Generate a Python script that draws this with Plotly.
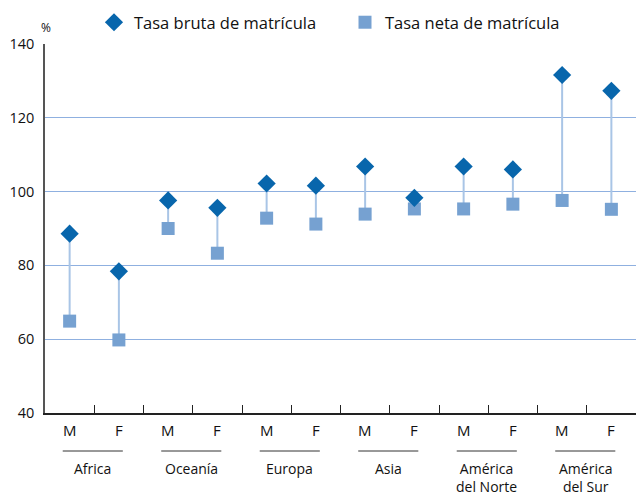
import plotly.graph_objects as go

regions = ["Africa", "Oceanía", "Europa", "Asia", "América<br>del Norte", "América<br>del Sur"]
sexes = ["M", "F"]
tasa_bruta = [88.6, 78.4, 97.6, 95.6, 102.2, 101.6, 106.8, 98.3, 106.8, 106.0, 131.6, 127.3]
tasa_neta = [64.9, 59.8, 90.0, 83.3, 92.8, 91.2, 93.9, 95.3, 95.3, 96.6, 97.6, 95.2]
y_ticks = [40, 60, 80, 100, 120, 140]

n = len(tasa_bruta)
xs = [i + 0.5 for i in range(n)]

FONT = "Open Sans"
DARK = "#111111"
W, H = 639, 496
ML, MR, MT, MB = 45, 3, 44, 83
PH = H - MT - MB


def py(px):
    """pixel y from top -> paper coordinate"""
    return (H - MB - px) / PH


stem_x, stem_y = [], []
for x, b, t in zip(xs, tasa_bruta, tasa_neta):
    stem_x += [x, x, None]
    stem_y += [t, b, None]

fig = go.Figure()
fig.add_trace(go.Scatter(x=stem_x, y=stem_y, mode="lines",
                         line=dict(color="#a9c5e6", width=2),
                         showlegend=False, hoverinfo="skip"))
fig.add_trace(go.Scatter(x=xs, y=tasa_neta, mode="markers", name="Tasa neta de matrícula",
                         legend="legend2",
                         marker=dict(symbol="square", size=13, color="#76a1d1")))
fig.add_trace(go.Scatter(x=xs, y=tasa_bruta, mode="markers", name="Tasa bruta de matrícula",
                         legend="legend",
                         marker=dict(symbol="diamond", size=14, color="#0866ac")))

annotations = []
shapes = []
for i, x in enumerate(xs):
    annotations.append(dict(x=x, y=py(430), xref="x", yref="paper", text=sexes[i % 2],
                            showarrow=False, yanchor="middle",
                            font=dict(family=FONT, size=15, color=DARK)))
for g, name in enumerate(regions):
    c = 2 * g + 1 - 0.03
    shapes.append(dict(type="line", xref="x", yref="paper", x0=c - 0.61, x1=c + 0.61,
                       y0=py(451), y1=py(451), line=dict(color="#333333", width=1)))
    annotations.append(dict(x=c, y=py(457), xref="x", yref="paper", text=name,
                            showarrow=False, yanchor="top",
                            font=dict(family=FONT, size=14, color=DARK)))
annotations.append(dict(x=(46 - ML) / (W - ML - MR), y=py(27), xref="paper", yref="paper",
                        text="%", showarrow=False, xanchor="center", yanchor="middle",
                        font=dict(family=FONT, size=12, color=DARK)))

leg_common = dict(orientation="h", xref="container", yref="container",
                  xanchor="left", yanchor="top",
                  font=dict(family=FONT, size=16.5, color=DARK),
                  itemwidth=30, bgcolor="rgba(0,0,0,0)")

fig.update_layout(
    width=W, height=H,
    margin=dict(l=ML, r=MR, t=MT, b=MB, autoexpand=False),
    paper_bgcolor="white", plot_bgcolor="white",
    font=dict(family=FONT, size=15, color=DARK),
    showlegend=True,
    legend=dict(x=94 / W, y=1 - 5 / H, **leg_common),
    legend2=dict(x=345 / W, y=1 - 5 / H, **leg_common),
    annotations=annotations, shapes=shapes,
    xaxis=dict(range=[0, n], tickvals=list(range(n + 1)), ticktext=[""] * (n + 1),
               ticks="inside", ticklen=8, tickcolor="#222222", tickwidth=1,
               showgrid=False, zeroline=False, showline=True, linecolor="#222222",
               linewidth=1.5, fixedrange=True, automargin=False),
    yaxis=dict(range=[40, 140], tickvals=y_ticks, ticks="", showgrid=True,
               gridcolor="#8fb0e0", gridwidth=1, zeroline=False, showline=True,
               linecolor="#555555", linewidth=1.5, automargin=False,
               tickfont=dict(family=FONT, size=14.5, color=DARK), ticklabelstandoff=6),
)

fig.write_html("out.html", config={"displayModeBar": False},
               post_script="document.body.style.margin='0';")
